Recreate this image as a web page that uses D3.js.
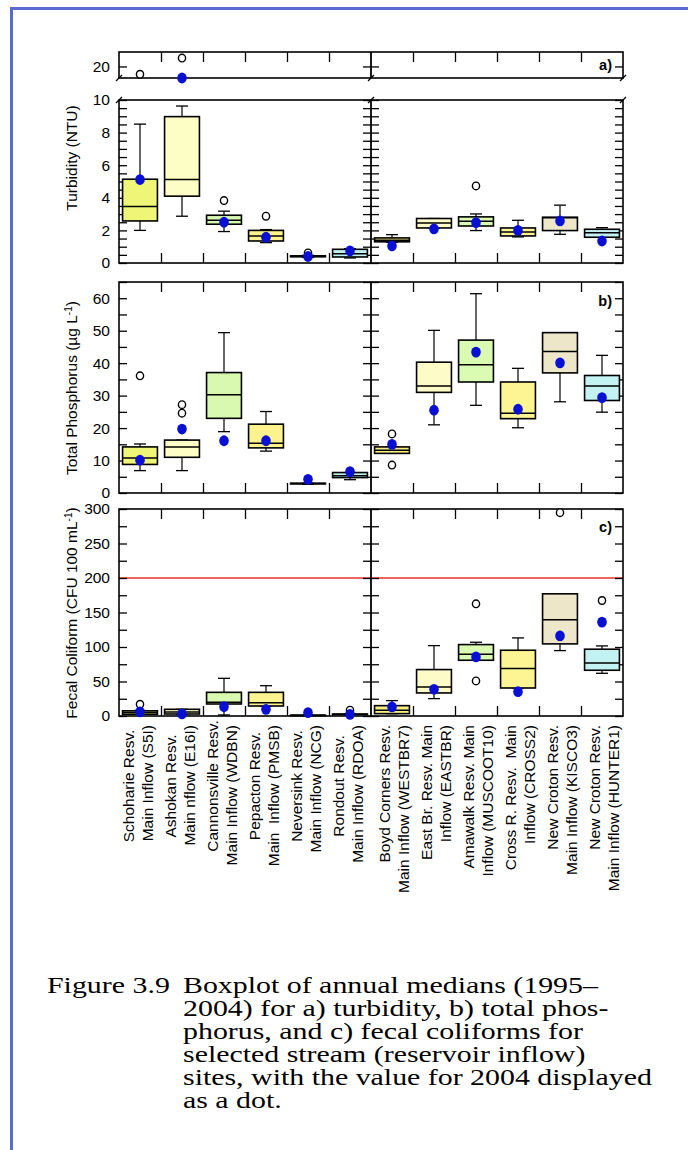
<!DOCTYPE html>
<html>
<head>
<meta charset="utf-8">
<script src="https://cdn.jsdelivr.net/npm/d3@7"></script>
<style>
  html, body { margin: 0; padding: 0; background: #fff; }
  svg { display: block; }
  text { font-family: "Liberation Sans", Arial, sans-serif; }
  .caption text { font-family: "Liberation Serif", "Times New Roman", serif; }
  .site { white-space: pre; }
</style>
</head>
<body>
<svg id="chart" width="688" height="1150"></svg>
<script>
// ---- sites (two-line labels) ----
const siteLine1 = [
  "Schoharie Resv.", "Ashokan Resv.", "Cannonsville Resv.", "Pepacton Resv.",
  "Neversink Resv.", "Rondout Resv.", "Boyd Corners Resv.", "East Br. Resv. Main",
  "Amawalk Resv. Main", "Cross R. Resv.  Main", "New Croton Resv.", "New Croton Resv."
];
const siteLine2 = [
  "Main Inflow (S5I)", "Main nflow (E16I)", "Main Inflow (WDBN)", "Main  Inflow (PMSB)",
  "Main Inflow (NCG)", "Main Inflow (RDOA)", "Main Inflow (WESTBR7)", "Inflow (EASTBR)",
  "Inflow (MUSCOOT10)", "Inflow (CROSS2)", "Main Inflow (KISCO3)", "Main Inflow (HUNTER1)"
];
const boxFills = [
  "#eef577", "#fdfdc6", "#d9f9b0", "#fdf38e", "#f3f0a0", "#c2f0f0",
  "#f5ef86", "#fdfcc8", "#dafbb2", "#fdf594", "#ede6c8", "#c3f2f3"
];

// ---- a) turbidity (NTU): [lower whisker, Q1, median, Q3, upper whisker] ----
const turbidityBoxes = [
  [2.00, 2.58, 3.46, 5.14, 8.52],
  [2.87, 4.10, 5.12, 8.98, 9.63],
  [1.93, 2.38, 2.62, 2.93, 3.18],
  [1.25, 1.35, 1.66, 2.00, 2.05],
  [0.35, 0.38, 0.41, 0.44, 0.47],
  [0.31, 0.37, 0.57, 0.84, 0.88],
  [1.27, 1.30, 1.40, 1.54, 1.74],
  [2.15, 2.15, 2.45, 2.73, 2.73],
  [1.99, 2.27, 2.56, 2.83, 3.01],
  [1.60, 1.66, 1.90, 2.15, 2.62],
  [1.76, 1.99, 2.77, 2.81, 3.55],
  [1.58, 1.58, 1.86, 2.07, 2.17]
];
const turbidityOutliers = [[14.6], [25.8], [3.83], [2.87], [0.62], [], [], [], [4.73], [], [], []];
const turbidity2004 = [5.12, 12.0, 2.50, 1.58, 0.40, 0.74, 1.05, 2.09, 2.48, 2.00, 2.58, 1.35];

// ---- b) total phosphorus (ug/L) ----
const phosphorusBoxes = [
  [6.9, 8.8, 10.8, 14.2, 15.1],
  [6.9, 11.0, 14.2, 16.3, 16.3],
  [18.9, 23.0, 30.3, 37.1, 49.4],
  [12.9, 13.9, 15.3, 21.2, 25.1],
  [2.7, 2.8, 2.9, 3.0, 3.0],
  [4.1, 4.75, 5.3, 6.3, 6.3],
  [12.2, 12.2, 13.2, 14.2, 14.2],
  [21.0, 31.0, 33.0, 40.3, 50.1],
  [27.0, 34.2, 39.5, 47.1, 61.4],
  [20.1, 22.9, 24.6, 34.2, 38.4],
  [28.1, 37.0, 43.6, 49.4, 49.4],
  [24.9, 28.5, 33.0, 36.2, 42.4]
];
const phosphorusOutliers = [[36.1], [24.6, 27.2], [], [], [], [], [8.6, 18.2], [], [], [], [], []];
const phosphorus2004 = [10.1, 19.7, 16.1, 16.1, 4.2, 6.6, 15.0, 25.5, 43.4, 25.8, 40.1, 29.4];

// ---- c) fecal coliform (CFU/100 mL) ----
const coliformBoxes = [
  [2.5, 2.5, 5.0, 7.5, 8.0],
  [2.9, 2.9, 5.8, 9.7, 9.7],
  [1.5, 17.4, 19.8, 34.3, 54.6],
  [14.5, 14.5, 19.3, 34.3, 43.9],
  [0.5, 0.7, 1.0, 1.2, 1.5],
  [2.0, 2.2, 2.5, 2.8, 3.0],
  [3.4, 3.4, 8.2, 15.0, 22.3],
  [25.2, 33.4, 42.1, 67.3, 102.0],
  [80.8, 80.8, 89.5, 103.5, 106.9],
  [40.6, 40.6, 68.7, 95.3, 113.2],
  [94.8, 104.5, 139.4, 177.1, 177.1],
  [61.9, 66.3, 76.9, 96.8, 101.6]
];
const coliformOutliers = [[17], [], [], [], [], [8.5], [], [], [50.8, 162.6], [], [294.7], [167.4]];
const coliform2004 = [6.0, 3.0, 13.5, 9.7, 4.8, 2.4, 13.1, 38.7, 85.6, 35.3, 116.1, 136.0];
const coliformStandard = 200;

// ---- axis ticks ----
const turbidityTicks = [0, 2, 4, 6, 8, 10];
const turbidityBreakTicks = [20];
const phosphorusTicks = [0, 10, 20, 30, 40, 50, 60];
const coliformTicks = [0, 50, 100, 150, 200, 250, 300];

const captionLabel = "Figure 3.9";
const captionLines = [
  "Boxplot of annual medians (1995–",
  "2004) for a) turbidity, b) total phos-",
  "phorus, and c) fecal coliforms for",
  "selected stream (reservoir inflow)",
  "sites, with the value for 2004 displayed",
  "as a dot."
];

// ---------------------------------------------------------------
const svg = d3.select("#chart");
const L = 119, R = 623;
const nSites = siteLine1.length;
const x = d3.scaleBand().domain(d3.range(nSites)).range([L, R]);
const xEdge = d3.scaleLinear().domain([0, nSites]).range([L, R]);
const MID = xEdge(6);
const boxW = x.bandwidth() * 0.83;
const capW = 12;
const cx = i => x(i) + x.bandwidth() / 2;

// page frame
svg.append("path")
  .attr("d", `M688,8.5 H11.5 V1150`)
  .attr("fill", "none").attr("stroke", "#5b6ad2").attr("stroke-width", 3);

// vertical scales
const yBreak = d3.scaleLinear().domain([12, 30]).range([78, 52]);
const yTurb = d3.scaleLinear().domain([0, 10]).range([263, 100]);
const yPhos = d3.scaleLinear().domain([0, 65]).range([493, 282]);
const yCol = d3.scaleLinear().domain([0, 300]).range([716, 509]);

function styleAxis(g) {
  g.select(".domain").remove();
  g.selectAll(".tick line").attr("stroke", "#000").attr("stroke-width", 1.3);
  g.attr("font-family", '"Liberation Sans", Arial, sans-serif').attr("font-size", 15.5);
  g.selectAll(".tick text").attr("fill", "#000");
}

function frame(y, ticks, labels, opt) {
  const g = svg.append("g");
  const [y0, y1] = y.range();
  // left axis with labels at the major values
  g.append("g").attr("transform", `translate(${L},0)`)
    .call(d3.axisLeft(y).tickValues(ticks).tickSizeInner(-8).tickSizeOuter(0).tickPadding(9)
      .tickFormat(d => labels.includes(d) ? d3.format("d")(d) : ""))
    .call(styleAxis);
  // right axis, inward ticks
  g.append("g").attr("transform", `translate(${R},0)`)
    .call(d3.axisRight(y).tickValues(ticks).tickSizeInner(-8).tickSizeOuter(0).tickFormat(""))
    .call(styleAxis);
  // divider between the two site groups, ticks on both sides
  g.append("g").attr("transform", `translate(${MID},0)`)
    .call(d3.axisLeft(y).tickValues(ticks).tickSizeInner(8).tickSizeOuter(0).tickFormat(""))
    .call(styleAxis);
  g.append("g").attr("transform", `translate(${MID},0)`)
    .call(d3.axisRight(y).tickValues(ticks).tickSizeInner(8).tickSizeOuter(0).tickFormat(""))
    .call(styleAxis);
  const edges = d3.range(1, nSites).filter(k => k !== 6);
  if (opt.top) {
    g.append("g").attr("transform", `translate(0,${y1})`)
      .call(d3.axisTop(xEdge).tickValues(edges).tickSizeInner(-10).tickSizeOuter(0).tickFormat(""))
      .call(styleAxis);
  }
  if (opt.bottom) {
    g.append("g").attr("transform", `translate(0,${y0})`)
      .call(d3.axisBottom(xEdge).tickValues(edges).tickSizeInner(-10).tickSizeOuter(0).tickFormat(""))
      .call(styleAxis);
  }
  g.append("rect")
    .attr("x", L).attr("y", y1).attr("width", R - L).attr("height", y0 - y1)
    .attr("fill", "none").attr("stroke", "#000").attr("stroke-width", 1.6);
  g.append("line")
    .attr("x1", MID).attr("x2", MID).attr("y1", y1).attr("y2", y0)
    .attr("stroke", "#000").attr("stroke-width", 1.8);
  return g;
}

function boxes(yMain, data, outliers, dots, ySplit) {
  const pick = v => (ySplit && v > ySplit.limit) ? ySplit.scale : yMain;
  const g = svg.append("g");
  const b = g.selectAll("g.box").data(data).join("g").attr("class", "box");
  // whiskers
  b.append("line")
    .attr("x1", (d, i) => cx(i)).attr("x2", (d, i) => cx(i))
    .attr("y1", d => yMain(d[3])).attr("y2", d => yMain(d[4]))
    .attr("stroke", "#000").attr("stroke-width", 1.2);
  b.append("line")
    .attr("x1", (d, i) => cx(i)).attr("x2", (d, i) => cx(i))
    .attr("y1", d => yMain(d[1])).attr("y2", d => yMain(d[0]))
    .attr("stroke", "#000").attr("stroke-width", 1.2);
  [0, 4].forEach(k => {
    b.append("line")
      .attr("x1", (d, i) => cx(i) - capW / 2).attr("x2", (d, i) => cx(i) + capW / 2)
      .attr("y1", d => yMain(d[k])).attr("y2", d => yMain(d[k]))
      .attr("stroke", "#000").attr("stroke-width", 1.3);
  });
  // box
  b.append("rect")
    .attr("x", (d, i) => cx(i) - boxW / 2).attr("width", boxW)
    .attr("y", d => yMain(d[3])).attr("height", d => Math.max(0.5, yMain(d[1]) - yMain(d[3])))
    .attr("fill", (d, i) => boxFills[i]).attr("stroke", "#000").attr("stroke-width", 1.6);
  // median
  b.append("line")
    .attr("x1", (d, i) => cx(i) - boxW / 2).attr("x2", (d, i) => cx(i) + boxW / 2)
    .attr("y1", d => yMain(d[2])).attr("y2", d => yMain(d[2]))
    .attr("stroke", "#000").attr("stroke-width", 1.5);
  // outliers
  outliers.forEach((list, i) => {
    list.forEach(v => {
      g.append("ellipse")
        .attr("cx", cx(i)).attr("cy", pick(v)(v)).attr("rx", 3.6).attr("ry", 3.8)
        .attr("fill", "#fff").attr("stroke", "#000").attr("stroke-width", 1.4);
    });
  });
  // 2004 values
  g.selectAll("ellipse.dot").data(dots).join("ellipse").attr("class", "dot")
    .attr("cx", (d, i) => cx(i)).attr("cy", d => pick(d)(d))
    .attr("rx", 4.8).attr("ry", 5.4).attr("fill", "#0a10d2");
}

function panelTag(label, yPos) {
  svg.append("text").attr("x", 612).attr("y", yPos).attr("text-anchor", "end")
    .attr("font-size", 14.5).attr("font-weight", "bold").text(label);
}

function axisTitle(parts, yCenter) {
  const t = svg.append("text")
    .attr("transform", `translate(77,${yCenter}) rotate(-90)`)
    .attr("text-anchor", "middle").attr("font-size", 15.5);
  parts.forEach(p => {
    const s = t.append("tspan").text(p.text);
    if (p.sup) s.attr("baseline-shift", "super").attr("font-size", 10);
  });
}

// ---- panel a: turbidity with broken axis ----
frame(yBreak, turbidityBreakTicks, turbidityBreakTicks, { top: true, bottom: false });
frame(yTurb, d3.range(0, 10.01, 0.5), turbidityTicks, { top: false, bottom: true });
// break marks on the axis lines
[L, MID, R].forEach(xx => {
  [yBreak.range()[0], yTurb.range()[1]].forEach(yy => {
    svg.append("line").attr("x1", xx - 3).attr("y1", yy + 3).attr("x2", xx + 3).attr("y2", yy - 3)
      .attr("stroke", "#000").attr("stroke-width", 1.3);
  });
});
boxes(yTurb, turbidityBoxes, turbidityOutliers, turbidity2004, { limit: 10, scale: yBreak });
panelTag("a)", 70);
axisTitle([{ text: "Turbidity (NTU)" }], 158);

// ---- panel b: total phosphorus ----
frame(yPhos, d3.range(0, 65.01, 5), phosphorusTicks, { top: true, bottom: true });
boxes(yPhos, phosphorusBoxes, phosphorusOutliers, phosphorus2004, null);
panelTag("b)", 306);
axisTitle([{ text: "Total Phosphorus (µg L" }, { text: "-1", sup: true }, { text: ")" }], 388);

// ---- panel c: fecal coliform ----
svg.append("line")
  .attr("x1", L).attr("x2", R).attr("y1", yCol(coliformStandard)).attr("y2", yCol(coliformStandard))
  .attr("stroke", "#e5322d").attr("stroke-width", 1.5);
frame(yCol, d3.range(0, 300.01, 25), coliformTicks, { top: true, bottom: true });
boxes(yCol, coliformBoxes, coliformOutliers, coliform2004, null);
panelTag("c)", 532);
axisTitle([{ text: "Fecal Coliform (CFU 100 mL" }, { text: "-1", sup: true }, { text: ")" }], 613);

// ---- site labels (rotated, two lines each) ----
const labelTop = 725;
const labels = svg.append("g").attr("font-size", 15.5);
d3.range(nSites).forEach(i => {
  const west = i < 6;
  const d1 = west ? -6 : -2, d2 = west ? 12.5 : 16.5;
  labels.append("text").attr("class", "site")
    .attr("transform", west
      ? `translate(${cx(i) + d1},786) rotate(-90)`
      : `translate(${cx(i) + d1},${labelTop}) rotate(-90)`)
    .attr("text-anchor", west ? "middle" : "end")
    .text(siteLine1[i]);
  labels.append("text").attr("class", "site")
    .attr("transform", `translate(${cx(i) + d2},${labelTop}) rotate(-90)`)
    .attr("text-anchor", "end")
    .text(siteLine2[i]);
});

// ---- caption (hanging indent, wide serif type) ----
const capSize = 23, capStretch = 1.3, capTop = 993, capLead = 23;
const cap = svg.append("g").attr("class", "caption").attr("font-size", capSize).attr("fill", "#000");
cap.append("text").attr("transform", `translate(47,${capTop}) scale(${capStretch},1)`).text(captionLabel);
captionLines.forEach((line, k) => {
  cap.append("text")
    .attr("transform", `translate(183,${capTop + k * capLead}) scale(${capStretch},1)`)
    .text(line);
});
</script>
</body>
</html>
